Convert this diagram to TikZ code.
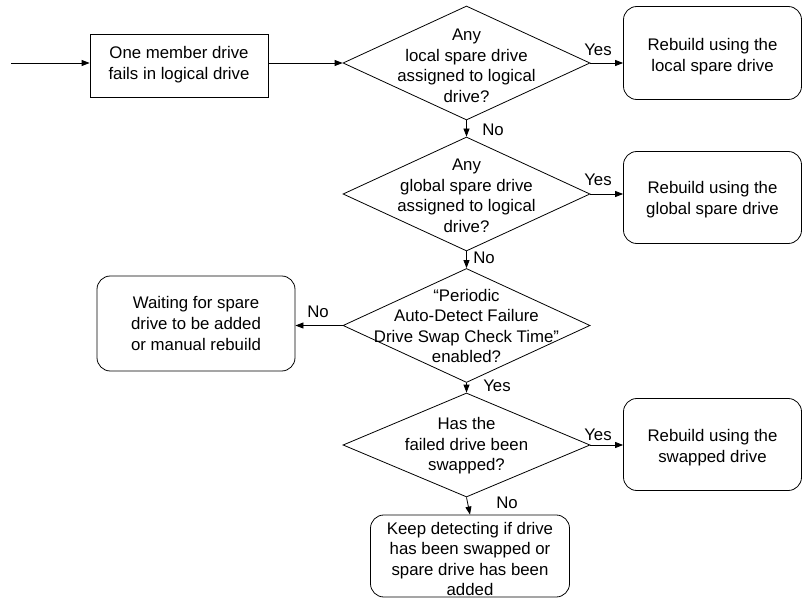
\documentclass[tikz,border=0pt]{standalone}
\usepackage{fontspec}
\setmainfont{Liberation Sans}
\usetikzlibrary{shapes.geometric,arrows.meta}
\begin{document}
\begin{tikzpicture}[x=0.75pt,y=-0.75pt,
  every node/.style={font=\fontsize{12.6}{15.4}\selectfont, align=center},
  line/.style={draw, line width=0.6pt},
  arr/.style={line, -{Triangle[length=6pt,width=4.5pt]}},
  sqbox/.style={draw, line width=0.6pt, minimum width=133.5pt, minimum height=47.25pt, inner sep=0pt},
  rbox/.style={draw, line width=0.6pt, rounded corners=10pt, minimum width=133.5pt, inner sep=0pt},
  dia/.style={draw, line width=0.6pt, diamond, minimum width=185.25pt, minimum height=85.5pt, inner sep=0pt},
  lbl/.style={inner sep=0pt}]
\useasboundingbox (0,0) rectangle (803,599);

\coordinate (start) at (11,63);
\node[sqbox] (b1) at (179,65.5) {};
\node[lbl] (b1t) at (179,64.5) {One member drive\\fails in logical drive};

\node[dia] (d1) at (466.5,63) {};
\node[lbl] (d1t) at (466.5,66) {Any\\local spare drive\\assigned to logical\\drive?};
\node[dia] (d2) at (466.5,194) {};
\node[lbl] (d2t) at (466.5,196) {Any\\global spare drive\\assigned to logical\\drive?};
\node[dia] (d3) at (466.5,325.5) {};
\node[lbl] (d3t) at (466.5,326) {“Periodic\\Auto-Detect Failure\\Drive Swap Check Time”\\enabled?};
\node[dia, minimum height=78pt] (d4) at (466.5,445) {};
\node[lbl] (d4t) at (466.5,446) {Has the\\failed drive been\\swapped?};

\node[rbox, minimum height=69.75pt] (r1) at (712.5,53) {};
\node[lbl] (r1t) at (712.5,56.5) {Rebuild using the\\local spare drive};
\node[rbox, minimum height=69pt] (r2) at (712.5,197.5) {};
\node[lbl] (r2t) at (712.5,199.5) {Rebuild using the\\global spare drive};
\node[rbox, minimum height=69pt] (r3) at (712.5,444.5) {};
\node[lbl] (r3t) at (712.5,447.5) {Rebuild using the\\swapped drive};
\node[rbox, minimum width=148.5pt, minimum height=71.25pt] (w) at (196,323.5) {};
\node[lbl] (wt) at (196,323.5) {Waiting for spare\\drive to be added\\or manual rebuild};
\node[rbox, minimum width=149.25pt, minimum height=61.5pt] (k) at (470,556) {};
\node[lbl] (kt) at (470,559) {Keep detecting if drive\\has been swapped or\\spare drive has been\\added};

\draw[arr] (start) -- (start -| b1.west);
\draw[arr] (b1.east |- d1.west) -- (d1.west);
\draw[arr] (d1.east) -- (d1.east -| r1.west);
\draw[arr] (d2.east) -- (d2.east -| r2.west);
\draw[arr] (d4.east) -- (d4.east -| r3.west);
\draw[arr] (d1.south) -- (d2.north);
\draw[arr] (d2.south) -- (d3.north);
\draw[arr] (d3.south) -- (d4.north);
\draw[arr] (d4.south) -- (k.north);
\draw[arr] (d3.west) -- (d3.west -| w.east);

\node[lbl] (y1) at (598,50) {Yes};
\node[lbl] (y2) at (598,180) {Yes};
\node[lbl] (y3) at (497,386) {Yes};
\node[lbl] (y4) at (598,435) {Yes};
\node[lbl] (n1) at (493,130) {No};
\node[lbl] (n2) at (484,258) {No};
\node[lbl] (n3) at (318,312) {No};
\node[lbl] (n4) at (507,503) {No};
\end{tikzpicture}
\end{document}
